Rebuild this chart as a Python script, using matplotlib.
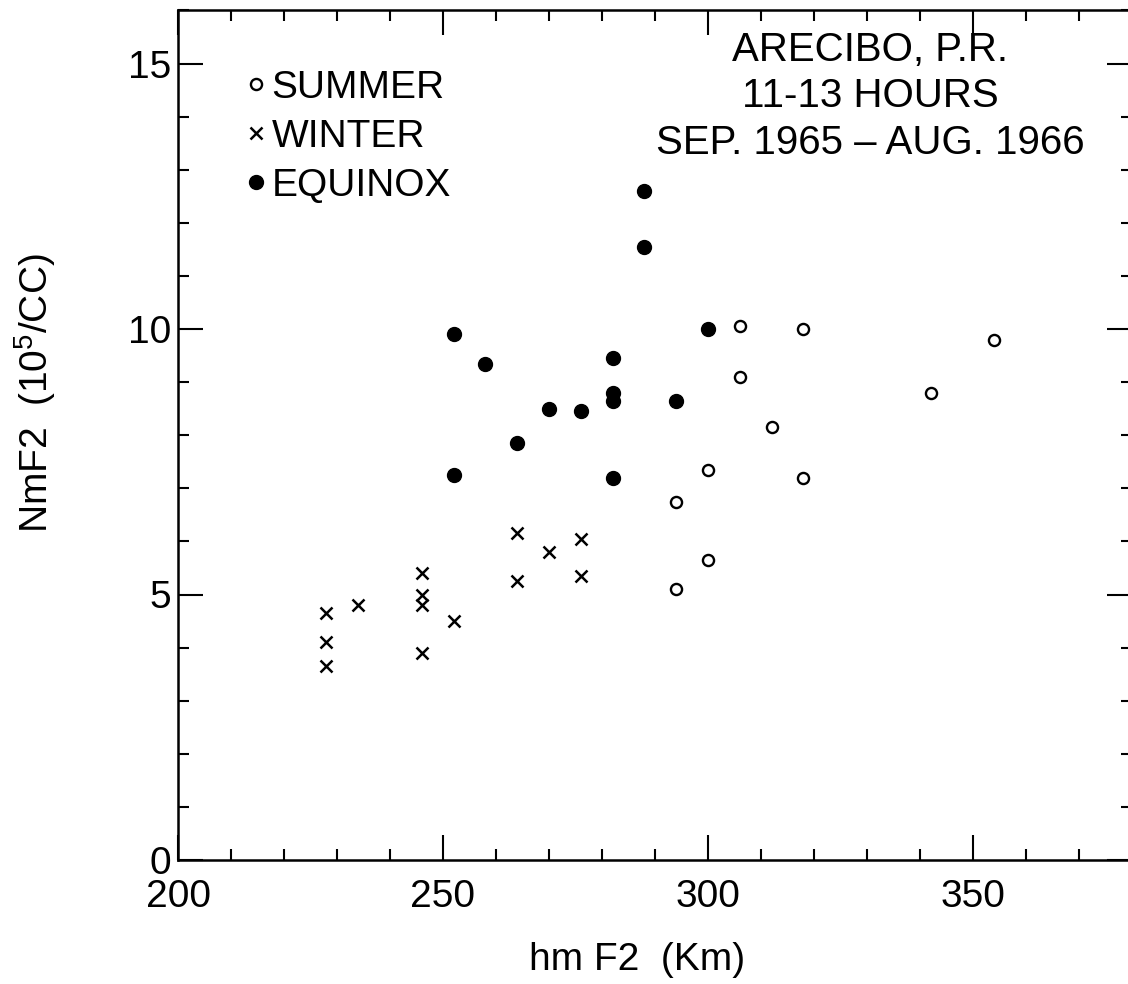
import matplotlib
matplotlib.use('Agg')
import matplotlib.pyplot as plt
from matplotlib.ticker import MultipleLocator

plt.rcParams['font.family'] = ['Liberation Sans', 'DejaVu Sans']
plt.rcParams['mathtext.fontset'] = 'custom'
plt.rcParams['mathtext.rm'] = 'Liberation Sans'

# Данные: hmF2 (км) и NmF2 (10^5 / см^3)
summer_h = [306, 318, 354, 306, 312, 342, 318, 300, 294, 300, 294]
summer_n = [10.05, 10.0, 9.8, 9.1, 8.15, 8.8, 7.2, 7.35, 6.75, 5.65, 5.1]

winter_h = [264, 270, 276, 264, 276, 246, 246, 246, 234, 228, 252, 228, 228, 246]
winter_n = [6.15, 5.8, 6.05, 5.25, 5.35, 5.4, 5.0, 4.8, 4.8, 4.65, 4.5, 4.1, 3.65, 3.9]

equinox_h = [288, 288, 252, 258, 282, 300, 282, 282, 270, 276, 294, 264, 252, 282]
equinox_n = [12.6, 11.55, 9.9, 9.35, 9.45, 10.0, 8.8, 8.65, 8.5, 8.45, 8.65, 7.85, 7.25, 7.2]

labels = ['SUMMER', 'WINTER', 'EQUINOX']
info = 'ARECIBO, P.R.\n11-13 HOURS\nSEP. 1965 \u2013 AUG. 1966'

fs = 28
W, H = 1128, 984
fig = plt.figure(figsize=(W / 100, H / 100), dpi=100)
ax = fig.add_axes([178 / W, 124 / H, 954 / W, 849.6 / H])

s, = ax.plot(summer_h, summer_n, 'o', ls='none', ms=8, mfc='white', mec='black', mew=1.7)
w, = ax.plot(winter_h, winter_n, 'x', ls='none', ms=8, color='black', mew=1.8)
e, = ax.plot(equinox_h, equinox_n, 'o', ls='none', ms=10, color='black')

ax.set_xlim(200, 380)
ax.set_ylim(0, 16)
ax.xaxis.set_major_locator(MultipleLocator(50))
ax.xaxis.set_minor_locator(MultipleLocator(10))
ax.yaxis.set_major_locator(MultipleLocator(5))
ax.yaxis.set_minor_locator(MultipleLocator(1))
ax.set_xticks([200, 250, 300, 350])
ax.set_yticks([0, 5, 10, 15])

for sp in ax.spines.values():
    sp.set_linewidth(1.8)
ax.tick_params(which='both', direction='in', top=True, right=True, width=1.5, labelsize=fs)
ax.tick_params(which='major', length=18)
ax.tick_params(which='minor', length=8)
ax.tick_params(axis='x', pad=14)
ax.tick_params(axis='y', pad=5)

ax.set_xlabel('hm F2  (Km)', fontsize=fs, va='center')
ax.xaxis.set_label_coords(0.481, -0.118)
ax.set_ylabel(r'NmF2  (10$^{\mathregular{5}}$/CC)', fontsize=fs, va='center')
ax.yaxis.set_label_coords(-0.15, 0.549)

ax.legend([s, w, e], labels, loc='upper left', bbox_to_anchor=(250 / W, 1 - 70 / H),
          bbox_transform=fig.transFigure, frameon=False, fontsize=fs,
          handlelength=0.3, handletextpad=0.25, labelspacing=0.33,
          borderpad=0, borderaxespad=0, numpoints=1)

fig.text(870 / W, 1 - 31 / H, info, ha='center', va='top', ma='center',
         fontsize=29, linespacing=1.28)

fig.savefig('out.png', dpi=100)
